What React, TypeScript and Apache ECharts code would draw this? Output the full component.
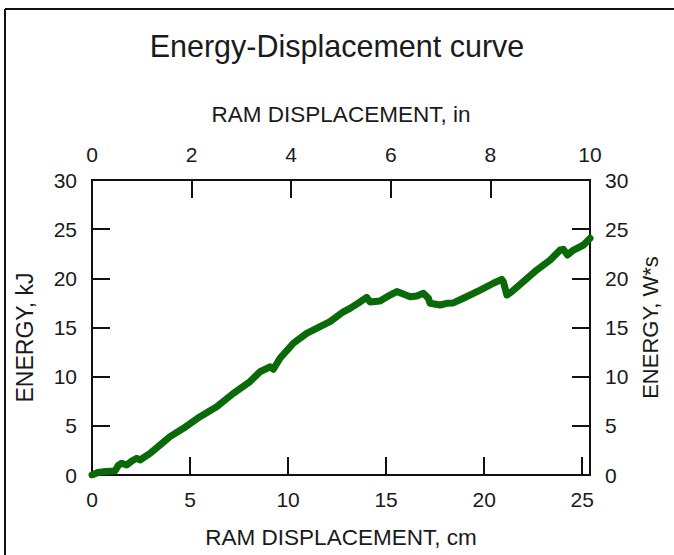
import React, { useEffect, useRef } from "react";
import * as echarts from "echarts";

const titleText = "Energy-Displacement curve";
const bottomAxisName = "RAM DISPLACEMENT, cm";
const topAxisName = "RAM DISPLACEMENT, in";
const leftAxisName = "ENERGY, kJ";
const rightAxisName = "ENERGY, W*s";

// RAM displacement (cm) and energy (kJ)
const dispCm = [
  0, 0.3, 0.7, 1.17, 1.35, 1.51, 1.77, 2.05, 2.28, 2.45, 2.96, 3.47, 3.98, 4.66,
  5.51, 6.36, 7.21, 8.06, 8.57, 9.08, 9.25, 9.59, 10.27, 10.95, 11.63, 12.14,
  12.82, 13.16, 13.67, 14.01, 14.18, 14.69, 15.2, 15.55, 15.88, 16.22, 16.57,
  16.9, 17.16, 17.24, 17.76, 18.1, 18.43, 18.94, 19.8, 20.47, 20.9, 20.98,
  21.16, 21.41, 22.0, 22.69, 23.37, 23.88, 24.04, 24.25, 24.56, 25.07, 25.4,
];
const energyKJ = [
  0, 0.25, 0.35, 0.4, 1.0, 1.19, 1.02, 1.45, 1.7, 1.53, 2.2, 3.05, 3.9, 4.75,
  5.93, 6.95, 8.3, 9.5, 10.5, 11.0, 10.75, 11.87, 13.4, 14.4, 15.08, 15.6, 16.6,
  16.95, 17.6, 18.07, 17.6, 17.7, 18.3, 18.65, 18.4, 18.13, 18.2, 18.48, 17.97,
  17.46, 17.29, 17.46, 17.5, 17.97, 18.8, 19.5, 19.9, 19.66, 18.3, 18.64, 19.66,
  20.85, 21.87, 22.88, 22.95, 22.37, 22.88, 23.39, 24.07,
];

const cmTicks = { min: 0, max: 25.4, interval: 5 };
const inTicks = { min: 0, max: 10, interval: 2 };
const energyTicks = { min: 0, max: 30, interval: 5 };

const FONT = "'Liberation Sans', Arial, Helvetica, sans-serif";
const AXIS_COLOR = "#111";
const TEXT_COLOR = "#1a1a1a";

export default function App() {
  const ref = useRef<HTMLDivElement>(null);

  useEffect(() => {
    if (!ref.current) return;
    const chart = echarts.init(ref.current, undefined, { renderer: "svg" });

    const axisCommon = {
      axisLine: { show: true, onZero: false, lineStyle: { color: AXIS_COLOR, width: 2 } },
      axisTick: { show: true, inside: true, length: 18, lineStyle: { color: AXIS_COLOR, width: 2 } },
      splitLine: { show: false },
    };
    const nameStyle = { fontFamily: FONT, fontSize: 22.5, color: TEXT_COLOR };
    const labelCommon = { fontFamily: FONT, fontSize: 21, color: TEXT_COLOR };

    const data = dispCm.map((x, i) => [x, energyKJ[i]]);

    chart.setOption({
      animation: false,
      backgroundColor: "#fff",
      title: {
        text: titleText,
        left: "center",
        top: 25,
        textStyle: { fontFamily: FONT, fontSize: 30.5, fontWeight: "normal", color: TEXT_COLOR },
      },
      grid: { left: 92, right: 84, top: 180, bottom: 80, containLabel: false },
      xAxis: [
        {
          type: "value",
          position: "bottom",
          ...cmTicks,
          ...axisCommon,
          name: bottomAxisName,
          nameLocation: "middle",
          nameGap: 51,
          nameTextStyle: nameStyle,
          axisLabel: { ...labelCommon, margin: 14, showMaxLabel: false },
        },
        {
          type: "value",
          position: "top",
          ...inTicks,
          ...axisCommon,
          name: topAxisName,
          nameLocation: "middle",
          nameGap: 54,
          nameTextStyle: nameStyle,
          axisLabel: { ...labelCommon, margin: 15 },
        },
      ],
      yAxis: [
        {
          type: "value",
          position: "left",
          ...energyTicks,
          ...axisCommon,
          name: leftAxisName,
          nameLocation: "middle",
          nameGap: 56,
          nameTextStyle: { ...nameStyle, fontSize: 23, padding: [0, 20, 0, 0] },
          axisLabel: { ...labelCommon, margin: 15 },
        },
        {
          type: "value",
          position: "right",
          ...energyTicks,
          ...axisCommon,
          name: rightAxisName,
          nameLocation: "middle",
          nameGap: 49,
          nameRotate: 90,
          nameTextStyle: { ...nameStyle, fontSize: 22 },
          axisLabel: { ...labelCommon, margin: 15 },
        },
      ],
      series: [
        {
          type: "line",
          xAxisIndex: 0,
          yAxisIndex: 0,
          data,
          showSymbol: false,
          symbol: "none",
          smooth: false,
          lineStyle: { color: "#0a6a0a", width: 7, cap: "round", join: "round" },
        },
      ],
      graphic: [
        { type: "line", shape: { x1: 5, y1: 9, x2: 674, y2: 9 }, style: { stroke: "#111", lineWidth: 2 } },
        { type: "line", shape: { x1: 5, y1: 9, x2: 5, y2: 555 }, style: { stroke: "#111", lineWidth: 2 } },
      ],
    });

    return () => chart.dispose();
  }, []);

  return (
    <div
      ref={ref}
      style={{ position: "fixed", left: 0, top: 0, width: 674, height: 555, background: "#fff" }}
    />
  );
}
